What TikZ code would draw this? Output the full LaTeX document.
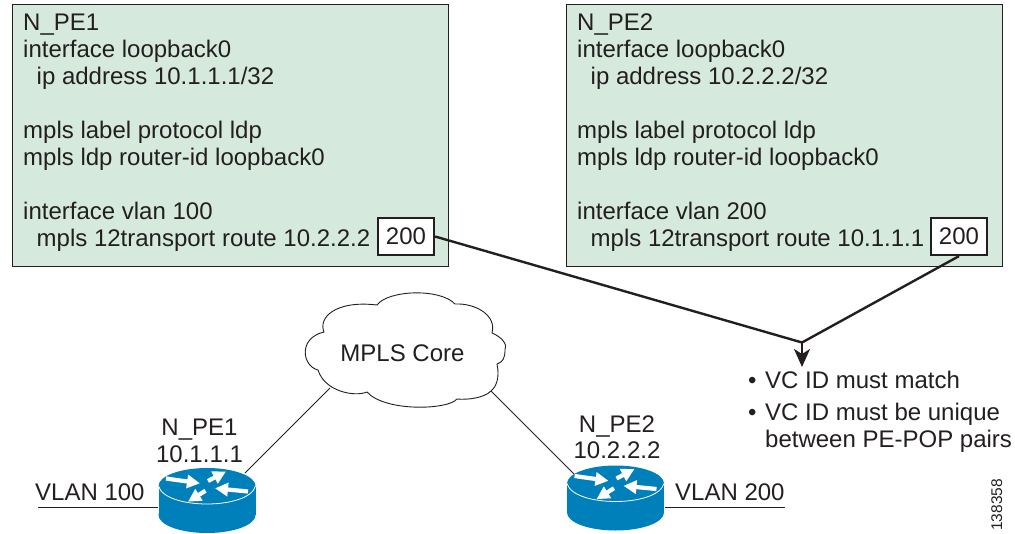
\documentclass[tikz,border=0pt]{standalone}
\usepackage{fontspec}
\setmainfont{Liberation Sans}
\usetikzlibrary{arrows.meta}
\definecolor{boxgreen}{HTML}{D5E9DC}
\definecolor{routerblue}{HTML}{0080BB}
\definecolor{inkdark}{HTML}{231F20}
\tikzset{
  configbox/.style={draw=inkdark,line width=0.9pt,fill=boxgreen},
  configtext/.style={anchor=north west,inner sep=0pt,align=left,text=inkdark,font=\fontsize{24}{27}\selectfont},
  idbox/.style={draw=inkdark,line width=2.2pt,fill=white,inner sep=0pt,minimum width=56pt,minimum height=37pt,text=inkdark,font=\fontsize{24}{27}\selectfont},
  label/.style={inner sep=0pt,text=inkdark,font=\fontsize{24}{27}\selectfont},
  thinline/.style={draw=inkdark,line width=0.9pt},
  thickline/.style={draw=inkdark,line width=2.4pt},
  whitearrow/.style={draw=white,line width=4.2pt,-{Triangle[length=13pt,width=13pt]}},
  routerpic/.pic={
    \fill[routerblue] (-48.5,0) rectangle (48.5,29);
    \fill[routerblue] (0,29) ellipse [x radius=48.5,y radius=18];
    \fill[routerblue] (0,0) ellipse [x radius=48.5,y radius=18];
    \draw[white,line width=0.8pt] (-48.5,0) .. controls (-42,24) and (42,24) .. (48.5,0);
    \draw[whitearrow] (-41,-7.5) -- (-7,-2.7);
    \draw[whitearrow] (1,-5) -- (19,-14.5);
    \draw[whitearrow] (41,5.5) -- (8,2.3);
    \draw[whitearrow] (-1.5,4.7) -- (-19,15.7);
  }
}
\begin{document}
\begin{tikzpicture}[x=1pt,y=-1pt]
\useasboundingbox (0,0) rectangle (1015,533);
% configuration boxes
\node[configbox,anchor=north west,minimum width=436pt,minimum height=262pt,inner sep=0pt] (box1) at (12,4) {};
\node[configbox,anchor=north west,minimum width=436pt,minimum height=262pt,inner sep=0pt] (box2) at (566,4) {};
\node[configtext] (text1) at (23,14) {N\_PE1\\interface loopback0\\\hspace*{13.5pt}ip address 10.1.1.1/32\\[27pt]mpls label protocol ldp\\mpls ldp router-id loopback0\\[27pt]interface vlan 100\\\hspace*{13.5pt}mpls 12transport route 10.2.2.2};
\node[configtext] (text2) at (577,14) {N\_PE2\\interface loopback0\\\hspace*{13.5pt}ip address 10.2.2.2/32\\[27pt]mpls label protocol ldp\\mpls ldp router-id loopback0\\[27pt]interface vlan 200\\\hspace*{13.5pt}mpls 12transport route 10.1.1.1};
\node[idbox] (id1) at (406,236.5) {200};
\node[idbox] (id2) at (959,236.5) {200};
% VC ID connectors
\coordinate (join) at (802,342.5);
\node[label,anchor=base west] (bullets) at (748,388) {•};
\draw[thickline] (id1.east) -- (join);
\draw[thickline] (id2.south) -- (join);
\draw[thickline,-{Stealth[length=18pt,width=16pt,inset=5pt]}] (join) -- (802,367);
\node[label,anchor=base west] (b1) at (765,388) {VC ID must match};
\node[label,anchor=base west] (bullet2) at (748,420) {•};
\node[label,anchor=base west] (b2) at (765,420) {VC ID must be unique};
\node[label,anchor=base west] (b3) at (765,447) {between PE-POP pairs};
% cloud
\draw[thinline,fill=white] (377,305) .. controls (388,290) and (440,288) .. (455,304)
  .. controls (475,303) and (497,315) .. (492,333)
  .. controls (502,337) and (508,345) .. (505,350)
  .. controls (505,358) and (503,362) .. (497,364)
  .. controls (500,378) and (496,387) .. (491,391)
  .. controls (484,398) and (468,400) .. (457,399)
  .. controls (448,410) and (385,412) .. (367,392)
  .. controls (355,397) and (325,392) .. (318,370)
  .. controls (302,366) and (298,338) .. (324,332)
  .. controls (318,318) and (335,300) .. (377,305) -- cycle;
\node[label,anchor=base] (core) at (402.5,361) {MPLS Core};
\coordinate (cloudL) at (330,388);
\coordinate (cloudR) at (491,391);
% routers
\pic at (207,486) {routerpic};
\pic at (615.5,483.5) {routerpic};
\coordinate (r1top) at (245,473);
\coordinate (r2top) at (574,474);
\coordinate (r1left) at (158,507);
\coordinate (r2right) at (665,507);
\coordinate (v1end) at (38,507);
\coordinate (v2end) at (785,507);
\draw[thinline] (cloudL) -- (r1top);
\draw[thinline] (cloudR) -- (r2top);
\draw[thinline] (v1end) -- (r1left);
\draw[thinline] (r2right) -- (v2end);
% labels
\node[label,anchor=base] (n1) at (199.5,435) {N\_PE1};
\node[label,anchor=base] (a1) at (199.5,462) {10.1.1.1};
\node[label,anchor=base] (n2) at (617,432) {N\_PE2};
\node[label,anchor=base] (a2) at (617,458.5) {10.2.2.2};
\node[label,anchor=base west] (v1) at (35,500) {VLAN 100};
\node[label,anchor=base west] (v2) at (675,500.5) {VLAN 200};
\node[inner sep=0pt,text=inkdark,font=\fontsize{15.5}{18}\selectfont,rotate=90,anchor=base west] (fig) at (1002,531) {138358};
\end{tikzpicture}
\end{document}
